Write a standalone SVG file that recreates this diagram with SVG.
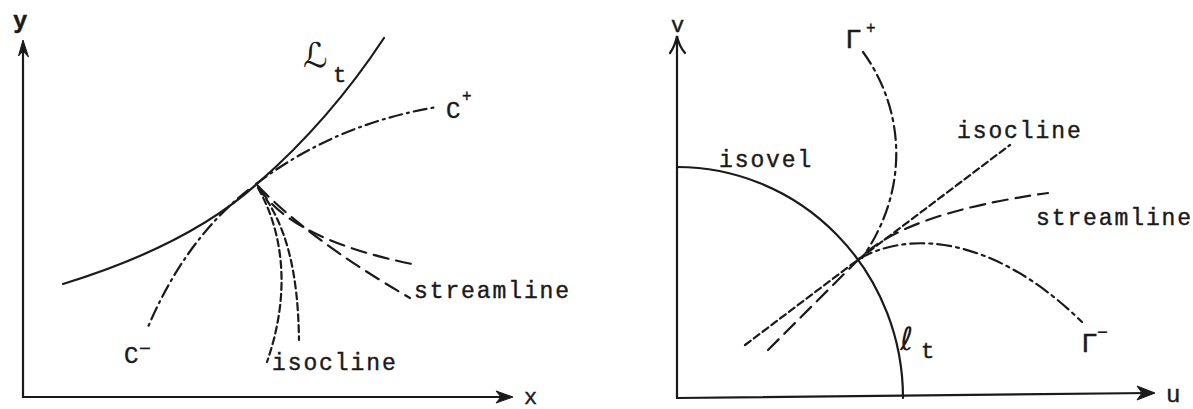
<svg xmlns="http://www.w3.org/2000/svg" width="1193" height="409" viewBox="0 0 1193 409">
<style>
.ln{fill:none;stroke:#1a1a1a;stroke-width:2.2;stroke-linecap:round}
.dashdot{stroke-dasharray:13 5 2 5}
.long{stroke-dasharray:15 8}
.short{stroke-dasharray:7 4}
.gdash{stroke-dasharray:14 5 3 5}
.t{font-family:"Liberation Mono","DejaVu Sans Mono",monospace;font-size:23px;fill:#1a1a1a;stroke:#1a1a1a;stroke-width:0.4;letter-spacing:1.9px}
.lab{font-family:"Liberation Mono","DejaVu Sans Mono",monospace;fill:#1a1a1a;stroke:#1a1a1a;stroke-width:0.4}
.scr{font-family:"DejaVu Serif","DejaVu Sans",serif;fill:#1a1a1a;font-style:italic}
.ah{fill:#1a1a1a;stroke:#1a1a1a;stroke-width:1;stroke-linejoin:round}
</style>
<rect width="1193" height="409" fill="#ffffff"/>

<!-- LEFT PANEL -->
<g id="left-axes">
  <path class="ln" d="M23,44 L23,397 L508,397"/>
  <path class="ah" d="M23,40 L18.5,56 L23,51 L28.5,57 Z"/>
  <path class="ah" d="M513,397 L496,391 L501,397 L496,403 Z"/>
  <text class="lab" x="13" y="28" font-size="24" font-weight="bold">y</text>
  <text class="lab" x="524" y="404" font-size="22">x</text>
</g>
<g id="left-Lt">
  <path class="ln" d="M63,284 Q190,245 258,183 Q330,120 384,38"/>
  <text class="scr" x="303" y="67" font-size="34">ℒ</text>
  <text class="lab" x="333" y="82" font-size="22">t</text>
</g>
<g id="left-Cplus">
  <path class="ln dashdot" d="M256,184 Q335,124 437,107"/>
  <text class="lab" x="446" y="118" font-size="24">C</text>
  <text class="lab" x="462" y="101" font-size="16">+</text>
</g>
<g id="left-Cminus">
  <path class="ln dashdot" d="M248,190 Q185,240 148,327"/>
  <text class="lab" x="124" y="363" font-size="24">C</text>
  <text class="lab" x="139" y="355" font-size="20">−</text>
</g>
<g id="left-streamline">
  <path class="ln long" d="M258,186 Q290,240 417,265"/>
  <path class="ln long" d="M258,186 Q310,240 410,298"/>
  <text class="t" x="414" y="298">streamline</text>
</g>
<g id="left-isocline">
  <path class="ln short" d="M258,188 C282,230 292,290 267,362"/>
  <path class="ln short" d="M260,190 C286,225 298,270 299,340"/>
  <text class="t" x="272" y="370">isocline</text>
</g>

<!-- RIGHT PANEL -->
<g id="right-axes">
  <path class="ln" d="M677,40 L677,398 L1150,393"/>
  <path class="ln" d="M670,53 Q675,46 677,36 Q679,46 685,53"/>
  <path class="ah" d="M1155,393 L1137,386 L1142,393 L1137,400 Z"/>
  <text class="lab" x="671" y="32" font-size="22">v</text>
  <text class="lab" x="1166" y="402" font-size="24">u</text>
</g>
<g id="right-isovel">
  <path class="ln" d="M677,167 A226 231 0 0 1 903,398"/>
  <text class="t" x="719" y="167">isovel</text>
  <text class="scr" x="900" y="350" font-size="32">ℓ</text>
  <text class="lab" x="921" y="358" font-size="22">t</text>
</g>
<g id="right-isocline">
  <path class="ln short" d="M745,345 L1010,145"/>
  <text class="t" x="957" y="138">isocline</text>
</g>
<g id="right-streamline">
  <path class="ln long" d="M768,350 L859,259 Q905,213 1048,193"/>
  <text class="t" x="1036" y="225">streamline</text>
</g>
<g id="right-Gplus">
  <path class="ln gdash" d="M863,52 C905,110 910,190 862,258"/>
  <text class="lab" x="845" y="48" font-size="28">Γ</text>
  <text class="lab" x="866" y="33" font-size="16">+</text>
</g>
<g id="right-Gminus">
  <path class="ln gdash" d="M859,259 C905,232 990,232 1082,322"/>
  <text class="lab" x="1081" y="352" font-size="28">Γ</text>
  <text class="lab" x="1097" y="338" font-size="18">−</text>
</g>
</svg>
